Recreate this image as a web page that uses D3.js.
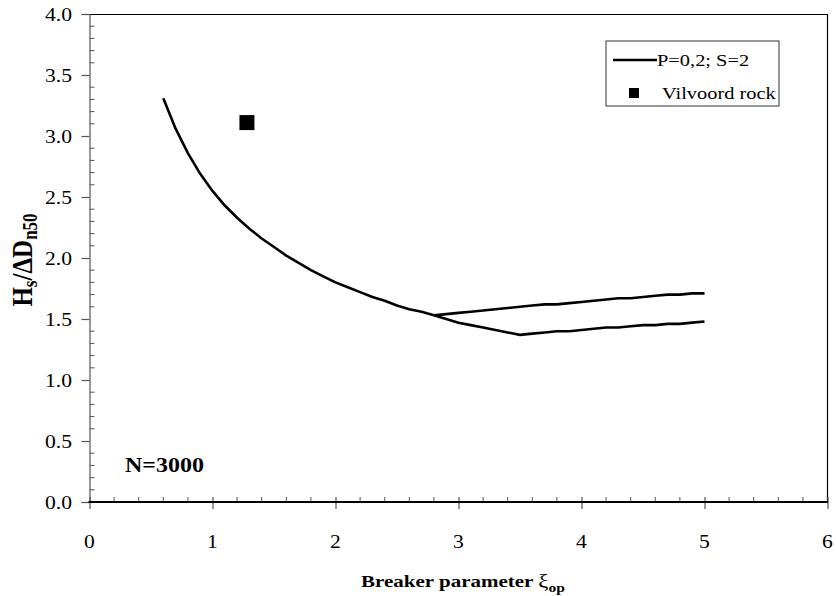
<!DOCTYPE html>
<html><head><meta charset="utf-8">
<script src="https://cdn.jsdelivr.net/npm/d3@7"></script>
<style>body{margin:0;background:#fff}svg{display:block}</style>
</head><body>
<script>
// ---- data ----
const mainX = [0.6,0.7,0.8,0.9,1.0,1.1,1.2,1.3,1.4,1.5,1.6,1.7,1.8,1.9,2.0,2.1,2.2,2.3,2.4,2.5,2.6,2.7,2.8];
const mainY = [3.31,3.06,2.86,2.69,2.55,2.43,2.33,2.24,2.16,2.09,2.02,1.96,1.90,1.85,1.80,1.76,1.72,1.68,1.65,1.61,1.58,1.56,1.53];
const lowerX = [2.8,2.9,3.0,3.1,3.2,3.3,3.4,3.5,3.6,3.7,3.8,3.9,4.0,4.1,4.2,4.3,4.4,4.5,4.6,4.7,4.8,4.9,5.0];
const lowerY = [1.53,1.50,1.47,1.45,1.43,1.41,1.39,1.37,1.38,1.39,1.40,1.40,1.41,1.42,1.43,1.43,1.44,1.45,1.45,1.46,1.46,1.47,1.48];
const upperX = [2.8,2.9,3.0,3.1,3.2,3.3,3.4,3.5,3.6,3.7,3.8,3.9,4.0,4.1,4.2,4.3,4.4,4.5,4.6,4.7,4.8,4.9,5.0];
const upperY = [1.53,1.54,1.55,1.56,1.57,1.58,1.59,1.60,1.61,1.62,1.62,1.63,1.64,1.65,1.66,1.67,1.67,1.68,1.69,1.70,1.70,1.71,1.71];
const pointX = [1.28];
const pointY = [3.11];
const xTicks = [0,1,2,3,4,5,6];
const yTicks = [0,0.5,1.0,1.5,2.0,2.5,3.0,3.5,4.0];
const legendLabels = ["P=0,2; S=2","Vilvoord rock"];
const nLabel = "N=3000";

// ---- layout ----
const W = 836, H = 596;
const L = 89.5, R = 827.5, T = 14, B = 502;
const SX = 1.2; // horizontal text stretch seen in the reference
const font = "Liberation Serif, Times New Roman, Times, serif";

const svg = d3.select("body").append("svg").attr("width", W).attr("height", H);
const x = d3.scaleLinear().domain([0,6]).range([L,R]);
const y = d3.scaleLinear().domain([0,4]).range([B,T]);

function txt(g, px, py, s, size, anchor, weight){
  return g.append("text")
    .attr("transform", `translate(${px},${py}) scale(${SX},1)`)
    .attr("text-anchor", anchor||"start")
    .attr("font-family", font).attr("font-size", size)
    .attr("font-weight", weight||"normal").attr("fill","#000").text(s);
}

// frame top/right
svg.append("line").attr("x1",L).attr("x2",R).attr("y1",T+0.5).attr("y2",T+0.5).attr("stroke","#000").attr("stroke-width",1.2);
svg.append("line").attr("x1",R).attr("x2",R).attr("y1",T).attr("y2",B).attr("stroke","#000").attr("stroke-width",1.2);

// y minor ticks (inward)
const yMinor = d3.range(0,41).map(d=>d/10).filter(d=>Math.abs(d*2-Math.round(d*2))>1e-6);
svg.append("g").selectAll("line").data(yMinor).join("line")
  .attr("x1",L).attr("x2",L+5).attr("y1",d=>y(d)).attr("y2",d=>y(d))
  .attr("stroke","#555").attr("stroke-width",1);
// y axis
const yAxis = d3.axisLeft(y).tickValues(yTicks).tickSize(8).tickFormat(d3.format(".1f"));
const gy = svg.append("g").attr("transform",`translate(${L},0)`).call(yAxis);
gy.select(".domain").attr("stroke","#555").attr("stroke-width",1.2);
gy.selectAll(".tick line").attr("stroke","#555").attr("stroke-width",1.2);
gy.selectAll(".tick text").remove();
yTicks.forEach(v=>txt(svg, 72, y(v)+6.5, d3.format(".1f")(v), 18, "end"));

// x minor ticks (upward)
const xMinor = d3.range(0,31).map(d=>d/5).filter(d=>Math.abs(d-Math.round(d))>1e-6);
svg.append("g").selectAll("line").data(xMinor).join("line")
  .attr("x1",d=>x(d)).attr("x2",d=>x(d)).attr("y1",B).attr("y2",B-5)
  .attr("stroke","#555").attr("stroke-width",1);
// x axis
const xAxis = d3.axisBottom(x).tickValues(xTicks).tickSize(7).tickFormat(d3.format("d"));
const gx = svg.append("g").attr("transform",`translate(0,${B})`).call(xAxis);
gx.select(".domain").remove();
gx.selectAll(".tick line").attr("y1",-5).attr("stroke","#555").attr("stroke-width",1.2);
gx.selectAll(".tick text").remove();
svg.append("line").attr("x1",L-1).attr("x2",R+0.5).attr("y1",B).attr("y2",B).attr("stroke","#000").attr("stroke-width",2.2);
xTicks.forEach(v=>txt(svg, x(v), 548, String(v), 18, "middle"));

// lines
const line = d3.line().x(d=>x(d[0])).y(d=>y(d[1]));
const series = [d3.zip(mainX,mainY), d3.zip(lowerX,lowerY), d3.zip(upperX,upperY)];
svg.append("g").selectAll("path").data(series).join("path")
  .attr("d", line).attr("fill","none").attr("stroke","#000")
  .attr("stroke-width",2.6).attr("stroke-linejoin","round").attr("stroke-linecap","butt");

// point
svg.append("g").selectAll("rect").data(d3.zip(pointX,pointY)).join("rect")
  .attr("x",d=>x(d[0])-7.5).attr("y",d=>y(d[1])-7.5).attr("width",15).attr("height",15).attr("fill","#000");

// N label
txt(svg, 125, 472, nLabel, 20, "start", "bold");

// legend
const lg = svg.append("g");
lg.append("rect").attr("x",606).attr("y",41).attr("width",173).attr("height",65)
  .attr("fill","#fff").attr("stroke","#333").attr("stroke-width",1);
lg.append("line").attr("x1",613).attr("x2",657).attr("y1",60).attr("y2",60).attr("stroke","#000").attr("stroke-width",2.6);
txt(lg, 657, 66, legendLabels[0], 17, "start");
lg.append("rect").attr("x",629).attr("y",88).attr("width",10).attr("height",10).attr("fill","#000");
txt(lg, 662, 99, legendLabels[1], 17, "start");

// x title
const xt = svg.append("text")
  .attr("transform",`translate(463,587) scale(${SX},1)`)
  .attr("text-anchor","middle").attr("font-family",font).attr("font-size",17.5).attr("font-weight","bold");
xt.append("tspan").text("Breaker parameter ");
xt.append("tspan").attr("font-weight","normal").attr("font-size",19).text("ξ");
xt.append("tspan").attr("font-size",13).attr("dy",5).text("op");

// y title
const yt = svg.append("text")
  .attr("transform",`translate(32,260) rotate(-90) scale(1,${SX})`)
  .attr("text-anchor","middle").attr("font-family",font).attr("font-size",25).attr("font-weight","bold");
yt.append("tspan").text("H");
yt.append("tspan").attr("font-size",17).attr("dy",4).text("s");
yt.append("tspan").attr("dy",-4).text("/\u0394D");
yt.append("tspan").attr("font-size",17).attr("dy",4).text("n50");
</script>
</body></html>
